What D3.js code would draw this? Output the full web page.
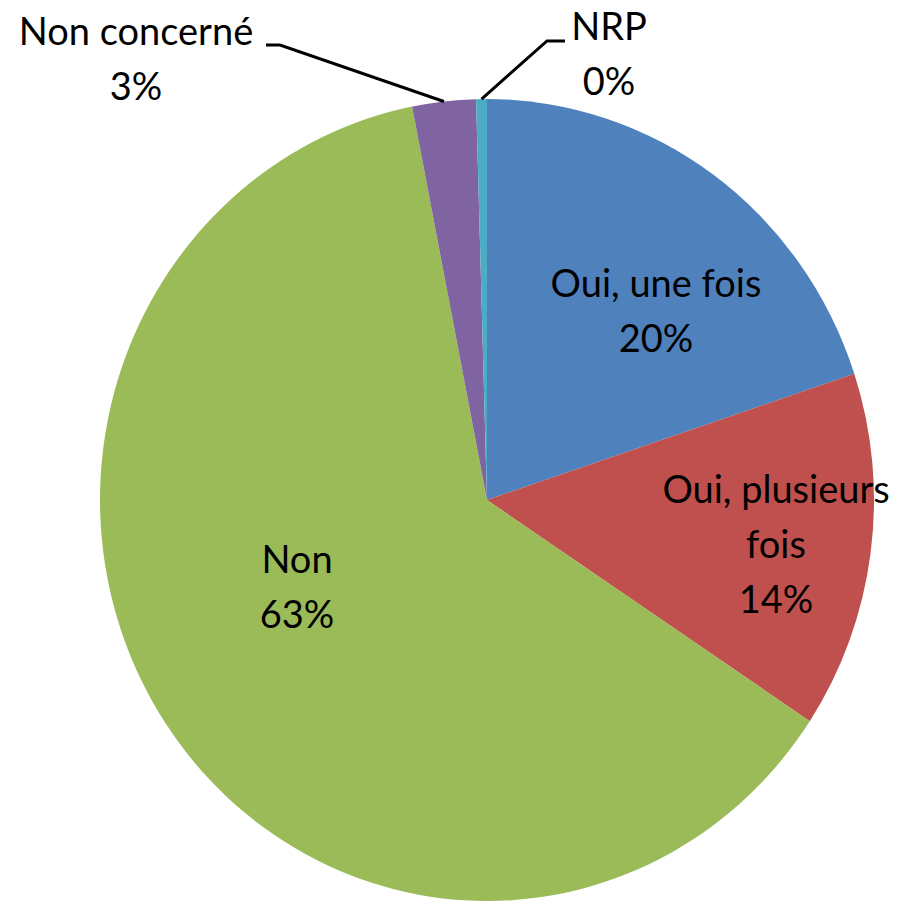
<!DOCTYPE html>
<html>
<head>
<meta charset="utf-8">
<script src="https://cdn.jsdelivr.net/npm/d3@7"></script>
<style>
  body { margin: 0; background: #fff; }
  text { font-family: Lato, "Open Sans", sans-serif; fill: #000; }
</style>
</head>
<body>
<div id="chart"></div>
<script>
  // slice data, clockwise from 12 o'clock
  const categories = ['Oui, une fois', 'Oui, plusieurs fois', 'Non', 'Non concerné', 'NRP'];
  const values = [19.9, 14.4, 62.6, 2.65, 0.45];
  const colors = ['#4F81BD', '#C0504D', '#9BBB59', '#8064A2', '#4BACC6'];
  // label text lines (category split as in the picture)
  const labelLines = [['Oui, une fois'], ['Oui, plusieurs', 'fois'], ['Non'], ['Non concerné'], ['NRP']];

  const width = 901, height = 906;
  const cx = 487, cy = 500;
  const rx = 387, ry = 401; // picture is slightly stretched vertically

  // label anchors (center x, baseline of first line) and leader elbows
  const labelPos = [
    { x: 656, y: 297 },
    { x: 776, y: 503 },
    { x: 297, y: 573 },
    { x: 136, y: 45 },
    { x: 609, y: 40 }
  ];
  const leaders = {
    3: { elbow: [280, 45], end: [266, 45] },
    4: { elbow: [547, 41], end: [565, 41] }
  };

  const svg = d3.select('#chart').append('svg')
    .attr('width', width)
    .attr('height', height);

  const total = d3.sum(values);
  const pie = d3.pie().sort(null).value(d => d)(values);
  const arc = d3.arc().innerRadius(0).outerRadius(rx);

  svg.append('g')
    .attr('transform', `translate(${cx},${cy}) scale(1,${ry / rx})`)
    .selectAll('path')
    .data(pie)
    .enter().append('path')
    .attr('d', arc)
    .attr('fill', (d, i) => colors[i]);

  // leader lines for the two small outside slices
  Object.keys(leaders).forEach(k => {
    const d = pie[k];
    const a = (d.startAngle + d.endAngle) / 2;
    const start = [cx + Math.sin(a) * rx, cy - Math.cos(a) * ry];
    svg.append('polyline')
      .attr('points', [start, leaders[k].elbow, leaders[k].end].map(p => p.join(',')).join(' '))
      .attr('fill', 'none')
      .attr('stroke', '#000')
      .attr('stroke-width', 3);
  });

  const fmt = d3.format('.0%');
  const lineH = 55;
  const labels = svg.append('g').selectAll('text')
    .data(pie)
    .enter().append('text')
    .attr('text-anchor', 'middle')
    .style('font-size', '38px');

  labels.each(function(d, i) {
    const t = d3.select(this);
    const lines = [...labelLines[i], fmt(values[i] / total)];
    lines.forEach((s, j) => {
      t.append('tspan')
        .attr('x', labelPos[i].x)
        .attr('y', labelPos[i].y + j * lineH)
        .text(s);
    });
  });
</script>
</body>
</html>
